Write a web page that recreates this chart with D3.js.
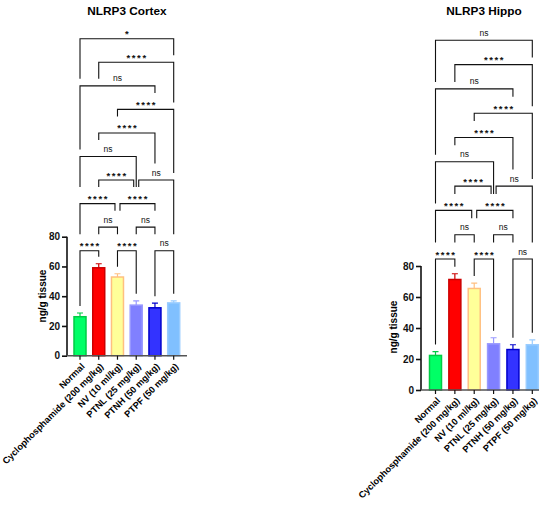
<!DOCTYPE html>
<html lang="en">
<head>
  <meta charset="UTF-8">
  <style>
    body { margin: 0; background: #fff; overflow: hidden; }
    svg { display: block; font-family: "Liberation Sans", Arial, sans-serif; }
    .title { font-size: 11.8px; font-weight: bold; }
    .tick-label { font-size: 10px; font-weight: bold; }
    .cat-label { font-size: 9.2px; font-weight: bold; }
    .y-title { font-size: 10px; font-weight: bold; }
    .bracket { fill: none; stroke: #111; stroke-width: 1.1; }
    .sig { fill: #111; }
  </style>
  <script src="https://cdn.jsdelivr.net/npm/d3@7"></script>
</head>
<body>
<svg id="chart" width="550" height="506"></svg>
<script>
  // groups and readings (ng/g tissue)
  const categories = ["Normal", "Cyclophosphamide (200 mg/kg)", "NV (10 ml/kg)",
    "PTNL (25 mg/kg)", "PTNH (50 mg/kg)", "PTPF (50 mg/kg)"];
  const cortexMean = [26.2, 59.1, 52.9, 34.0, 32.2, 35.5];
  const cortexErr = [2.5, 2.7, 2.2, 2.9, 3.1, 1.4];
  const hippoMean = [22.3, 71.3, 65.5, 29.8, 26.1, 29.2];
  const hippoErr = [2.5, 3.7, 3.5, 3.9, 3.1, 3.2];
  const yTicks = [0, 20, 40, 60, 80];

  // comparisons: [group a, group b, stacking row]
  const pairs = [[0, 1, 0], [2, 3, 0], [4, 5, 0], [1, 2, 1], [3, 4, 1], [0, 2, 2], [2, 4, 2],
    [1, 3, 3], [3, 5, 3], [0, 3, 4], [1, 4, 5], [2, 5, 6], [0, 4, 7], [1, 5, 8], [0, 5, 9]];
  const cortexSig = ["****", "****", "ns", "ns", "ns", "****", "****", "****", "ns", "ns",
    "****", "****", "ns", "****", "*"];
  const hippoSig = ["****", "****", "ns", "ns", "ns", "****", "****", "****", "ns", "ns",
    "****", "****", "ns", "****", "ns"];

  const fills = ["#00ff66", "#ff0000", "#ffff99", "#8080ff", "#3333ff", "#80c0ff"];
  const strokes = ["#00cc44", "#cc0000", "#ffc080", "#9999ff", "#0000cc", "#99ccff"];

  const svg = d3.select("#chart");

  function drawPanel(opt) {
    const g = svg.append("g");
    const y = d3.scaleLinear().domain([0, 80]).range([opt.yBottom, opt.yTop]);
    const x = d3.scalePoint().domain(d3.range(categories.length)).range([opt.x0, opt.x1]);
    const barW = 12;

    g.append("text").attr("class", "title")
      .attr("x", opt.titleX).attr("y", 15).attr("text-anchor", "middle").text(opt.title);

    // y axis
    const yAxis = d3.axisLeft(y).tickValues(yTicks).tickSize(5).tickPadding(2);
    const ya = g.append("g").attr("transform", `translate(${opt.axisX},0)`).call(yAxis);
    ya.select(".domain").attr("stroke", "#111").attr("stroke-width", 1.6)
      .attr("d", `M0,${opt.yTop}V${opt.yBottom}`);
    ya.selectAll(".tick line").attr("stroke", "#111").attr("stroke-width", 1.6);
    ya.selectAll(".tick text").attr("class", "tick-label").attr("fill", "#111");
    ya.attr("font-family", null).attr("font-size", null);

    g.append("text").attr("class", "y-title")
      .attr("transform", `translate(${opt.ylabX},${opt.ylabY}) rotate(-90)`)
      .attr("text-anchor", "middle").attr("dy", "0.35em").text("ng/g tissue");

    // bars
    g.selectAll(".bar").data(opt.mean).join("rect")
      .attr("x", (d, i) => x(i) - barW / 2)
      .attr("y", d => y(d))
      .attr("width", barW)
      .attr("height", d => y(0) - y(d))
      .attr("fill", (d, i) => fills[i])
      .attr("stroke", (d, i) => strokes[i])
      .attr("stroke-width", 1.5);

    // upper error bars
    opt.mean.forEach((m, i) => {
      const top = y(m + opt.err[i]);
      g.append("path")
        .attr("d", `M${x(i)},${y(m)}V${top}M${x(i) - 3},${top}H${x(i) + 3}`)
        .attr("stroke", strokes[i]).attr("stroke-width", 1.2).attr("fill", "none");
    });

    // x axis
    g.append("line").attr("x1", opt.axisX).attr("x2", opt.axisEnd)
      .attr("y1", y(0)).attr("y2", y(0)).attr("stroke", "#555").attr("stroke-width", 1.6);
    categories.forEach((c, i) => {
      g.append("line").attr("x1", x(i)).attr("x2", x(i))
        .attr("y1", y(0)).attr("y2", y(0) + 4).attr("stroke", "#111").attr("stroke-width", 1.2);
      g.append("text").attr("class", "cat-label")
        .attr("transform", `translate(${x(i) + 3},${y(0) + 9}) rotate(-45)`)
        .attr("text-anchor", "end").attr("dy", "0.35em").text(c);
    });

    // significance brackets
    const rowY = r => opt.row0 - r * opt.rowStep;
    const br = pairs.map((p, k) => ({ a: p[0], b: p[1], row: p[2], label: opt.sig[k],
      xl: x(p[0]), xr: x(p[1]) }));
    br.forEach(d => {
      br.forEach(o => {
        if (o.row === d.row && o.a === d.b) { d.xr -= 2.5; o.xl += 2.5; }
      });
    });
    br.forEach(d => {
      d.y = rowY(d.row);
      d.cx = (d.xl + d.xr) / 2;
      d.half = d.label === "ns" ? 12.5 : 18;
    });

    // a leg drops until it meets a label or bracket of a lower row, else the bar
    function legEnd(d, px, idx) {
      for (let r = d.row - 1; r >= 0; r--) {
        const rowB = br.filter(o => o.row === r);
        if (rowB.some(o => Math.abs(px - o.cx) <= o.half)) return rowY(r) - 16.5;
        if (rowB.some(o => px >= o.xl - 0.5 && px <= o.xr + 0.5)) return rowY(r) - 7;
      }
      return y(opt.mean[idx] + opt.err[idx]) - 7;
    }

    br.forEach(d => {
      const yl = Math.max(legEnd(d, d.xl, d.a), d.y + 3);
      const yr = Math.max(legEnd(d, d.xr, d.b), d.y + 3);
      g.append("path").attr("class", "bracket")
        .attr("d", `M${d.xl},${yl}V${d.y}H${d.xr}V${yr}`);
      if (d.label === "ns") {
        g.append("text").attr("class", "sig").attr("x", d.cx).attr("y", d.y - 4.5)
          .attr("text-anchor", "middle").attr("font-size", 8.5).attr("fill", "#333").text("ns");
      } else {
        g.append("text").attr("class", "sig").attr("x", d.cx + 0.9).attr("y", d.y - 1.5)
          .attr("text-anchor", "middle").attr("font-size", 9.5).attr("font-weight", "bold")
          .attr("letter-spacing", 1.6).text(d.label);
      }
    });
  }

  drawPanel({ title: "NLRP3 Cortex", mean: cortexMean, err: cortexErr, sig: cortexSig,
    x0: 80, x1: 173.7, axisX: 67, axisEnd: 187, yBottom: 355.7, yTop: 236.7,
    row0: 250.7, rowStep: 23.55, titleX: 127, ylabX: 42, ylabY: 296 });
  drawPanel({ title: "NLRP3 Hippo", mean: hippoMean, err: hippoErr, sig: hippoSig,
    x0: 435.5, x1: 532.3, axisX: 421, axisEnd: 539, yBottom: 390, yTop: 266,
    row0: 259, rowStep: 24.3, titleX: 484, ylabX: 393, ylabY: 327 });
</script>
</body>
</html>
